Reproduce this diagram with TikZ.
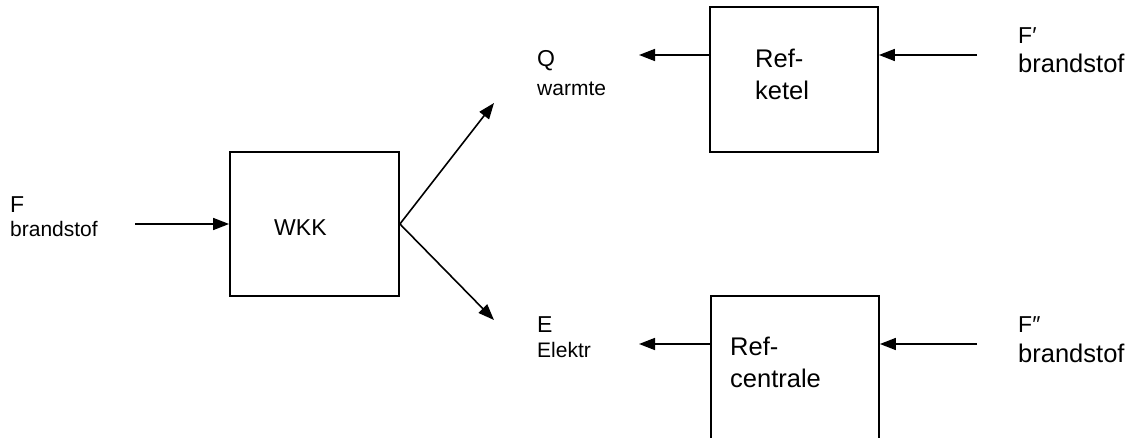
\documentclass[tikz,border=0pt]{standalone}
\usepackage{fontspec}
\setmainfont{Liberation Sans}
\usetikzlibrary{arrows.meta}
\begin{document}
\begin{tikzpicture}[x=1pt,y=-1pt,
  blk/.style={draw, line width=1.8pt, inner sep=0pt},
  arr/.style={line width=1.6pt, -{Triangle[length=16pt,width=12pt]}},
  big/.style={anchor=base west, inner sep=0pt, font=\fontsize{23}{26}\selectfont},
  bigger/.style={anchor=base west, inner sep=0pt, font=\fontsize{25.5}{28}\selectfont},
  small/.style={anchor=base west, inner sep=0pt, font=\fontsize{21}{24}\selectfont}]
\useasboundingbox (0,0) rectangle (1137,438);
\clip (0,0) rectangle (1137,438);
% blocks
\node[blk, minimum width=169pt, minimum height=144pt] (wkk) at (314.5,224) {};
\node[blk, minimum width=168pt, minimum height=145pt] (ketel) at (794,79.5) {};
\node[blk, minimum width=168pt, minimum height=160pt] (centrale) at (795,376) {};
% texts
\node[big] (Ftxt) at (10,213) {F};
\node[small] (Fsub) at (10,237) {brandstof};
\node[big] (wkktxt) at (274,236) {WKK};
\node[big] (Qtxt) at (537,67) {Q};
\node[small] (Qsub) at (537,96) {warmte};
\node[bigger] (k1) at (755,68) {Ref-};
\node[bigger] (k2) at (755,100) {ketel};
\node[big] (Fp) at (1018,44) {F′};
\node[bigger] (Fpsub) at (1018,73) {brandstof};
\node[big] (Etxt) at (537,332) {E};
\node[small] (Esub) at (537,357) {Elektr};
\node[bigger] (c1) at (730,355) {Ref-};
\node[bigger] (c2) at (730,387) {centrale};
\node[big] (Fpp) at (1018,332) {F″};
\node[bigger] (Fppsub) at (1018,362) {brandstof};
% connectors
\coordinate (fin) at (135,224);
\coordinate (qtip) at (494,103);
\coordinate (etip) at (494,320);
\coordinate (qend) at (639,55);
\coordinate (fpin) at (977,55);
\coordinate (eend) at (639,344);
\coordinate (fppin) at (977,344);
\draw[arr] (fin) -- (wkk.west|-fin);
\draw[arr] (wkk.east) -- (qtip);
\draw[arr] (wkk.east) -- (etip);
\draw[arr] (ketel.west|-qend) -- (qend);
\draw[arr] (fpin) -- (ketel.east|-fpin);
\draw[arr] (centrale.west|-eend) -- (eend);
\draw[arr] (fppin) -- (centrale.east|-fppin);
\end{tikzpicture}
\end{document}
